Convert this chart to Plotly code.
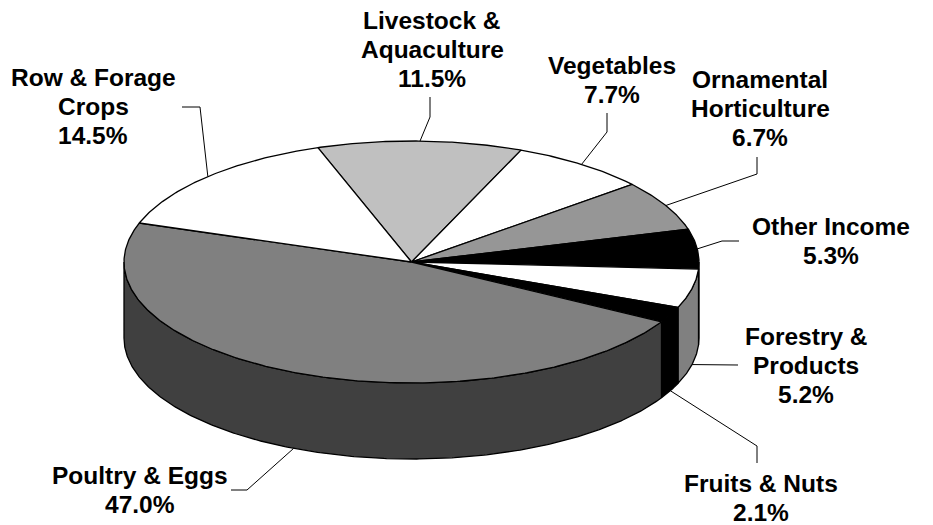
import numpy as np
import plotly.graph_objects as go

# ---------------- data ----------------
categories = ["Livestock & Aquaculture", "Vegetables", "Ornamental Horticulture",
              "Other Income", "Forestry & Products", "Fruits & Nuts",
              "Poultry & Eggs", "Row & Forage Crops"]
shares = [11.5, 7.7, 6.7, 5.3, 5.2, 2.1, 47.0, 14.5]
label_lines = [["Livestock &", "Aquaculture"], ["Vegetables"], ["Ornamental", "Horticulture"],
               ["Other Income"], ["Forestry &", "Products"], ["Fruits & Nuts"],
               ["Poultry & Eggs"], ["Row & Forage", "Crops"]]

# ---------------- style / layout ----------------
top_colors = ["#C0C0C0", "#FFFFFF", "#969696", "#000000", "#FFFFFF", "#000000", "#808080", "#FFFFFF"]
side_colors = ["#606060", "#808080", "#4B4B4B", "#000000", "#808080", "#000000", "#404040", "#808080"]

CX, CY = 411.5, 262.0      # centre of top ellipse (page pixel coordinates)
RX, RY = 287.5, 121.0      # ellipse radii
DEPTH = 76.0               # thickness of the pie
START = 109.0              # angle (deg, ccw from east) where first slice begins; slices run clockwise

# label placement: (x centre, first baseline) and leader bend points
label_pos = [(432, 29), (612, 74), (760, 88), (831, 235), (806, 345), (761, 492), (140, 484), (93, 86)]
leader_pts = [[(430, 117), (430, 97)], [(607, 132), (607, 113)], [(757, 174), (757, 157)],
              [(722, 241), (739, 241)], [(738, 365)], [(757, 446), (757, 463)],
              [(247, 490), (231, 490)], [(200, 107), (182, 107)]]
FONT_SIZE = 24.5
LINE_STEP = 29
EDGE = dict(color="black", width=1.3)
PAGE_MARGIN = 8            # default body margin of the written html page


def ex(t):
    return CX + RX * np.cos(np.radians(t))


def ey(t, drop=0.0):
    return CY - RY * np.sin(np.radians(t)) + drop


def arc(a, b):
    n = max(int(abs(a - b) * 2), 2)
    return np.linspace(a, b, n)


fig = go.Figure()

# slice angle ranges
bounds = []
hi = START
for v in shares:
    lo = hi - v * 3.6
    bounds.append((lo, hi))
    hi = lo

# ---- side walls (front half only) ----
for (lo, hi), col in zip(bounds, side_colors):
    for k in (-1, 0, 1):
        f_lo, f_hi = -180 + 360 * k, 0 + 360 * k
        s_lo, s_hi = max(lo, f_lo), min(hi, f_hi)
        if s_hi - s_lo <= 0:
            continue
        t1 = arc(s_hi, s_lo)
        t2 = t1[::-1]
        xs = np.concatenate([ex(t1), ex(t2), [ex(t1[0])]])
        ys = np.concatenate([ey(t1), ey(t2, DEPTH), [ey(t1[0])]])
        fig.add_trace(go.Scatter(x=xs, y=ys, mode="lines", fill="toself", fillcolor=col,
                                 line=EDGE, hoverinfo="skip"))

# ---- top faces ----
for (lo, hi), col in zip(bounds, top_colors):
    t = arc(hi, lo)
    xs = np.concatenate([[CX], ex(t), [CX]])
    ys = np.concatenate([[CY], ey(t), [CY]])
    fig.add_trace(go.Scatter(x=xs, y=ys, mode="lines", fill="toself", fillcolor=col,
                             line=EDGE, hoverinfo="skip"))

# ---- leader lines and labels ----
annotations = []
for i, ((lo, hi), lines, v) in enumerate(zip(bounds, label_lines, shares)):
    mid = (lo + hi) / 2
    drop = DEPTH if np.sin(np.radians(mid)) < 0 else 0.0
    ax, ay = ex(mid), ey(mid, drop)
    px = [ax] + [p[0] for p in leader_pts[i]]
    py = [ay] + [p[1] for p in leader_pts[i]]
    fig.add_trace(go.Scatter(x=px, y=py, mode="lines", line=dict(color="black", width=1),
                             hoverinfo="skip"))
    text_lines = lines + [f"{v:.1f}%"]
    lx, by = label_pos[i]
    for j, tl in enumerate(text_lines):
        annotations.append(dict(x=lx, y=by + j * LINE_STEP - 8.5, text=tl, showarrow=False,
                                xanchor="center", yanchor="middle",
                                font=dict(family="Liberation Sans, Arial, sans-serif",
                                          size=FONT_SIZE, color="black", weight="bold")))

W, H = 933, 525
fig.update_layout(
    width=W - PAGE_MARGIN, height=H - PAGE_MARGIN,
    margin=dict(l=0, r=0, t=0, b=0),
    paper_bgcolor="white", plot_bgcolor="white",
    showlegend=False,
    xaxis=dict(range=[PAGE_MARGIN, W], visible=False, fixedrange=True),
    yaxis=dict(range=[H, PAGE_MARGIN], visible=False, fixedrange=True),
    annotations=annotations,
)

fig.write_html("out.html")
